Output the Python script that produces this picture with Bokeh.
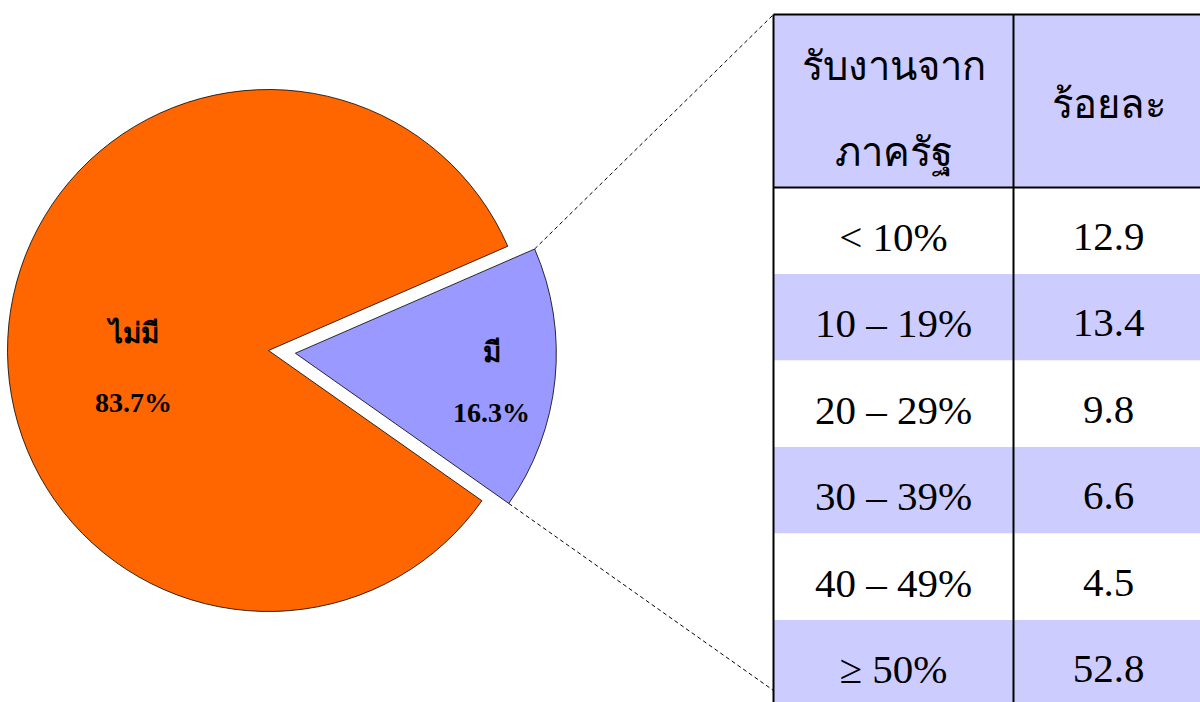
import math
from bokeh.plotting import figure
from bokeh.embed import file_html
from bokeh.resources import INLINE
from bokeh.core.properties import value

# ---- data ----
pie_categories = ["ไม่มี", "มี"]
pie_values = [83.7, 16.3]
pie_colors = ["#FF6600", "#9999FF"]

table_header = ["รับงานจาก\nภาครัฐ", "ร้อยละ"]
table_ranges = ["< 10%", "10 – 19%", "20 – 29%", "30 – 39%", "40 – 49%", "≥ 50%"]
table_values = [12.9, 13.4, 9.8, 6.6, 4.5, 52.8]

# ---- layout ----
W, H = 1200, 702
def X(x): return x
def Y(y): return H - y

p = figure(width=W, height=H, x_range=(0, W), y_range=(0, H),
           output_backend="svg", toolbar_location=None, min_border=0)
p.axis.visible = False
p.grid.visible = False
p.outline_line_color = None
p.background_fill_color = "white"

SERIF = value("Liberation Serif")

cx, cy, R = X(268), Y(350), 261
total = sum(pie_values)
span = pie_values[1] / total * 2 * math.pi
mid = math.radians(-5.8)
p_start, p_end = mid - span / 2, mid + span / 2
explode = 27
pcx, pcy = cx + explode * math.cos(mid), cy + explode * math.sin(mid)

# orange slice
p.wedge(x=[cx], y=[cy], radius=R, start_angle=[p_end], end_angle=[p_start + 2 * math.pi],
        fill_color=pie_colors[0], line_color="black", line_width=0.8)
# purple slice (exploded)
p.wedge(x=[pcx], y=[pcy], radius=R, start_angle=[p_start], end_angle=[p_end],
        fill_color=pie_colors[1], line_color="black", line_width=0.8)

# table geometry
tl, tm, tr = X(773), X(1013), W + 2
ttop, thb = Y(14), Y(187)
rh = 86.5

# dashed connector lines
ux, uy = pcx + R * math.cos(p_end), pcy + R * math.sin(p_end)
lx, ly = pcx + R * math.cos(p_start), pcy + R * math.sin(p_start)
p.segment(x0=[ux, lx], y0=[uy, ly], x1=[tl, tl], y1=[ttop, Y(690)],
          line_color="black", line_width=1, line_dash="4 3")

# pie labels
lab_pos = [(X(133), Y(333), Y(402)), (X(491), Y(352), Y(412))]
for cat, v, (lxp, ly1, ly2) in zip(pie_categories, pie_values, lab_pos):
    p.text(x=[lxp], y=[ly1], text=[cat], text_font=SERIF, text_font_style="bold",
           text_font_size="28px", text_align="center", text_baseline="middle", text_color="black")
    p.text(x=[lxp], y=[ly2], text=[f"{v:.1f}%"], text_font=SERIF, text_font_style="bold",
           text_font_size="28px", text_align="center", text_baseline="middle", text_color="black")

# table backgrounds
band = "#CCCCFF"
p.quad(left=[tl], right=[tr], top=[ttop], bottom=[thb], fill_color=band, line_color=None)
for i in range(len(table_ranges)):
    top = thb - i * rh
    col = "white" if i % 2 == 0 else band
    p.quad(left=[tl], right=[tr], top=[top], bottom=[top - rh], fill_color=col, line_color=None)

# borders
p.segment(x0=[tl, tl, tl, tm], y0=[ttop, thb, ttop, ttop], x1=[tr, tr, tl, tm], y1=[ttop, thb, -5, -5],
          line_color="black", line_width=2)

c1, c2 = (tl + tm) / 2, X(1108)
# header text
h1 = table_header[0].split("\n")
p.text(x=[c1, c1], y=[Y(66), Y(152)], text=h1, text_font=SERIF, text_font_size="40px",
       text_align="center", text_baseline="middle", text_color="black")
p.text(x=[c2], y=[Y(104)], text=[table_header[1]], text_font=SERIF, text_font_size="40px",
       text_align="center", text_baseline="middle", text_color="black")

# rows
ys = [thb - (i + 0.5) * rh - 6 for i in range(len(table_ranges))]
p.text(x=[c1] * len(ys), y=ys, text=table_ranges, text_font=SERIF, text_font_size="41px",
       text_align="center", text_baseline="middle", text_color="black")
p.text(x=[c2] * len(ys), y=ys, text=[f"{v:.1f}" for v in table_values], text_font=SERIF,
       text_font_size="41px", text_align="center", text_baseline="middle", text_color="black")

open("out.html", "w").write(file_html(p, INLINE))
